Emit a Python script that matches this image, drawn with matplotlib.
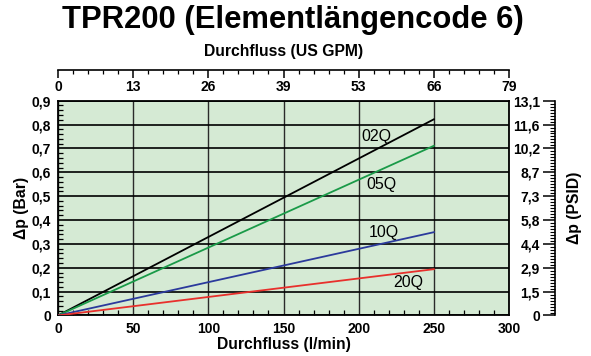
import matplotlib
matplotlib.use("Agg")
import matplotlib.pyplot as plt
from matplotlib.ticker import MultipleLocator

# flow in l/min, pressure drop in bar
flow_lpm = [0, 250]
dp_02q = [0, 0.822]
dp_05q = [0, 0.711]
dp_10q = [0, 0.349]
dp_20q = [0, 0.194]

series_names = ["02Q", "05Q", "10Q", "20Q"]
series_colors = ["#000000", "#1a9a48", "#2b3a9c", "#e8302c"]

x_ticks = [0, 50, 100, 150, 200, 250, 300]
gpm_labels = ["0", "13", "26", "39", "53", "66", "79"]
bar_ticks = [0, 0.1, 0.2, 0.3, 0.4, 0.5, 0.6, 0.7, 0.8, 0.9]
bar_labels = ["0", "0,1", "0,2", "0,3", "0,4", "0,5", "0,6", "0,7", "0,8", "0,9"]
psid_labels = ["0", "1,5", "2,9", "4,4", "5,8", "7,3", "8,7", "10,2", "11,6", "13,1"]

plt.rcParams["font.family"] = ["Liberation Sans", "DejaVu Sans"]
plt.rcParams["font.weight"] = "bold"

fig = plt.figure(figsize=(5.91, 3.56), dpi=100)
ax = fig.add_axes([0.0981, 0.1138, 0.7632, 0.6034])
ax.set_facecolor("#d5ead4")

all_dp = [dp_02q, dp_05q, dp_10q, dp_20q]
for dp, color in zip(all_dp, series_colors):
    ax.plot(flow_lpm, dp, color=color, lw=1.3, zorder=3)

# curve labels
label_pos = [(202, 0.752), (205, 0.547), (207, 0.347), (223, 0.137)]
for name, (lx, ly) in zip(series_names, label_pos):
    ax.text(lx, ly, name, fontsize=11.5, fontweight="normal", va="center", ha="left")

ax.set_xlim(0, 300)
ax.set_ylim(0, 0.9)
ax.set_xticks(x_ticks)
ax.set_xticklabels([str(v) for v in x_ticks])
ax.set_yticks(bar_ticks)
ax.set_yticklabels(bar_labels)
ax.xaxis.set_minor_locator(MultipleLocator(10))
ax.yaxis.set_minor_locator(MultipleLocator(0.02))
ax.tick_params(which="major", length=0, pad=5, labelsize=10)
ax.tick_params(which="minor", direction="in", length=3.5, width=0.9)
ax.grid(axis="y", which="major", color="black", lw=1.2)
ax.grid(axis="x", which="major", color="#2a2a2a", lw=1.0)
ax.set_axisbelow(True)
for sp in ax.spines.values():
    sp.set_linewidth(1.3)

ax.set_xlabel("Durchfluss (l/min)", fontsize=11.3, fontweight="bold")
ax.xaxis.set_label_coords(0.5, -0.137)
ax.xaxis.label.set_va("center")
ax.set_ylabel("\u0394p (Bar)", fontsize=11.3, fontweight="bold")
ax.yaxis.set_label_coords(-0.08, 0.5)
ax.yaxis.label.set_va("center")

# top axis in US GPM
ax_top = ax.twiny()
ax_top.set_xlim(0, 300)
ax_top.set_xticks(x_ticks)
ax_top.set_xticklabels(gpm_labels)
ax_top.xaxis.set_minor_locator(MultipleLocator(10))
ax_top.xaxis.set_ticks_position("bottom")
ax_top.xaxis.set_label_position("top")
for name in ["top", "left", "right"]:
    ax_top.spines[name].set_visible(False)
ax_top.spines["bottom"].set_position(("axes", 1.144))
ax_top.spines["bottom"].set_linewidth(1.2)
ax_top.tick_params(which="major", direction="out", length=6, width=1.1, pad=1.5, labelsize=10)
ax_top.tick_params(which="minor", direction="out", length=3, width=0.9)
ax_top.set_xlabel("Durchfluss (US GPM)", fontsize=11.3, fontweight="bold")
ax_top.xaxis.set_label_coords(0.5, 1.227)
ax_top.xaxis.label.set_va("center")

# right axis in PSID
ax_r = ax.twinx()
ax_r.set_ylim(0, 0.9)
ax_r.set_yticks(bar_ticks)
ax_r.set_yticklabels(psid_labels)
ax_r.yaxis.set_minor_locator(MultipleLocator(0.0125))
ax_r.yaxis.set_ticks_position("left")
for name in ["top", "bottom", "right"]:
    ax_r.spines[name].set_visible(False)
ax_r.spines["left"].set_position(("axes", 1.102))
ax_r.spines["left"].set_linewidth(1.2)
ax_r.tick_params(which="major", direction="out", length=9, width=1.1, pad=2, labelsize=10)
ax_r.tick_params(which="minor", direction="out", length=3.5, width=0.8)
ax_r.set_ylabel("\u0394p (PSID)", fontsize=11.3, fontweight="bold")
ax_r.yaxis.set_label_coords(1.146, 0.5)
ax_r.yaxis.label.set_va("center")

fig.text(0.495, 0.944, "TPR200 (Elementlängencode 6)", fontsize=22.3,
         fontweight="bold", ha="center", va="center")

fig.savefig("out.png", dpi=100)
